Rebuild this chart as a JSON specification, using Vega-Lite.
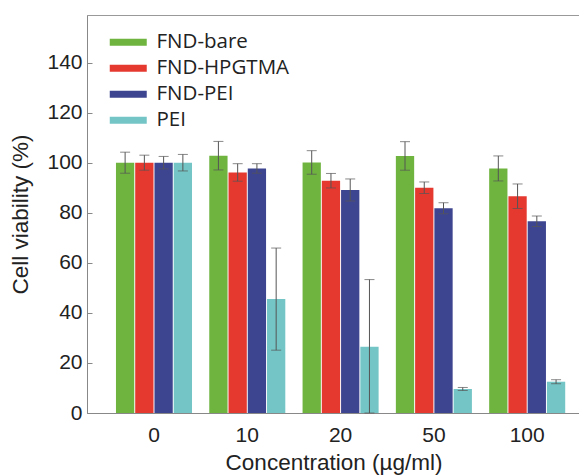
{
  "$schema": "https://vega.github.io/schema/vega-lite/v6.json",
  "autosize": "none",
  "padding": {"left": 87, "top": 15, "right": 0, "bottom": 63},
  "width": 493,
  "height": 398,
  "background": "white",
  "config": {
    "view": {"stroke": "#999", "strokeWidth": 1},
    "font": "Liberation Sans"
  },
  "data": {
    "values": [
      {"conc": "0", "series": "FND-bare", "mean": 100, "low": 95.8, "high": 104.2},
      {"conc": "0", "series": "FND-HPGTMA", "mean": 100, "low": 97, "high": 103},
      {"conc": "0", "series": "FND-PEI", "mean": 100, "low": 97.5, "high": 102.5},
      {"conc": "0", "series": "PEI", "mean": 100, "low": 96.7, "high": 103.3},
      {"conc": "10", "series": "FND-bare", "mean": 102.8, "low": 97.1, "high": 108.5},
      {"conc": "10", "series": "FND-HPGTMA", "mean": 96.1, "low": 92.6, "high": 99.6},
      {"conc": "10", "series": "FND-PEI", "mean": 97.7, "low": 95.8, "high": 99.6},
      {"conc": "10", "series": "PEI", "mean": 45.5, "low": 25.1, "high": 65.9},
      {"conc": "20", "series": "FND-bare", "mean": 100.1, "low": 95.4, "high": 104.8},
      {"conc": "20", "series": "FND-HPGTMA", "mean": 92.8, "low": 89.9, "high": 95.7},
      {"conc": "20", "series": "FND-PEI", "mean": 89.1, "low": 84.7, "high": 93.5},
      {"conc": "20", "series": "PEI", "mean": 26.5, "low": 0, "high": 53.3},
      {"conc": "50", "series": "FND-bare", "mean": 102.7, "low": 97, "high": 108.4},
      {"conc": "50", "series": "FND-HPGTMA", "mean": 90, "low": 87.7, "high": 92.3},
      {"conc": "50", "series": "FND-PEI", "mean": 81.8, "low": 79.6, "high": 84},
      {"conc": "50", "series": "PEI", "mean": 9.6, "low": 9, "high": 10.2},
      {"conc": "100", "series": "FND-bare", "mean": 97.7, "low": 92.7, "high": 102.7},
      {"conc": "100", "series": "FND-HPGTMA", "mean": 86.6, "low": 81.7, "high": 91.5},
      {"conc": "100", "series": "FND-PEI", "mean": 76.6, "low": 74.5, "high": 78.7},
      {"conc": "100", "series": "PEI", "mean": 12.5, "low": 11.7, "high": 13.3}
    ]
  },
  "encoding": {
    "x": {
      "field": "conc", "type": "nominal", "sort": ["0", "10", "20", "50", "100"],
      "scale": {"paddingInner": 0.185, "paddingOuter": 0.2345, "align": 0.662},
      "axis": {
        "title": "Concentration (µg/ml)", "labelAngle": 0, "labelFontSize": 21, "labelColor": "#222",
        "labelPadding": 11, "ticks": false, "domainColor": "#888",
        "titleFontSize": 22.5, "titleFontWeight": "normal", "titleColor": "#222", "titlePadding": 6
      }
    },
    "xOffset": {"field": "series", "type": "nominal", "sort": ["FND-bare", "FND-HPGTMA", "FND-PEI", "PEI"], "scale": {"paddingInner": 0.05}}
  },
  "layer": [
    {
      "mark": {"type": "bar"},
      "encoding": {
        "y": {
          "field": "mean", "type": "quantitative", "scale": {"domain": [0, 159], "nice": false},
          "axis": {
            "title": "Cell viability (%)",
            "values": [0,5,10,15,20,25,30,35,40,45,50,55,60,65,70,75,80,85,90,95,100,105,110,115,120,125,130,135,140,145,150,155],
            "labelExpr": "datum.value % 20 === 0 ? datum.label : ''",
            "tickSize": {"condition": {"test": "datum.value % 20 === 0", "value": -5}, "value": -3},
            "tickColor": "#888", "domainColor": "#888", "grid": false,
            "labelFontSize": 21, "labelColor": "#222", "labelPadding": 10,
            "titleFontSize": 22.5, "titleFontWeight": "normal", "titleColor": "#222", "titlePadding": 14
          }
        },
        "color": {
          "field": "series", "type": "nominal",
          "scale": {"domain": ["FND-bare", "FND-HPGTMA", "FND-PEI", "PEI"], "range": ["#6fb43f", "#e5392f", "#3e4590", "#74c5c6"]},
          "legend": {
            "title": null, "orient": "none", "legendX": 31, "legendY": 17,
            "symbolType": "M-2.5,-0.47H2.5V0.47H-2.5Z", "symbolSize": 219, "symbolStrokeWidth": 0,
            "labelFont": "Open Sans", "labelFontSize": 20.5, "labelColor": "#222", "labelOffset": 18,
            "rowPadding": 5
          }
        }
      }
    },
    {
      "mark": {"type": "rule", "color": "#555", "strokeWidth": 1},
      "encoding": {"y": {"field": "low", "type": "quantitative"}, "y2": {"field": "high"}}
    },
    {
      "mark": {"type": "tick", "color": "#555", "size": 10, "thickness": 1, "orient": "horizontal"},
      "encoding": {"y": {"field": "low", "type": "quantitative"}}
    },
    {
      "mark": {"type": "tick", "color": "#555", "size": 10, "thickness": 1, "orient": "horizontal"},
      "encoding": {"y": {"field": "high", "type": "quantitative"}}
    }
  ]
}
